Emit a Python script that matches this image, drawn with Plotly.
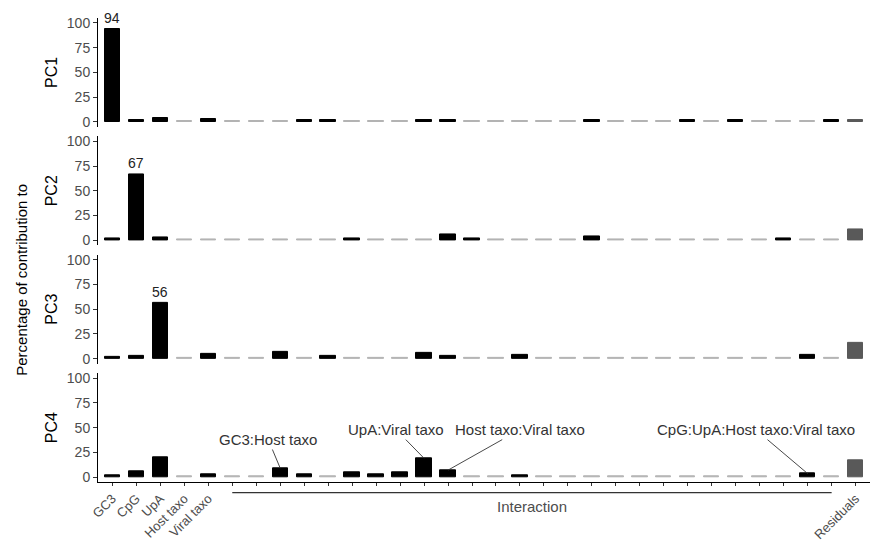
import plotly.graph_objects as go
from plotly.subplots import make_subplots

# ---------------- data ----------------
terms = [
    "GC3", "CpG", "UpA", "Host taxo", "Viral taxo",
    "GC3:CpG", "GC3:UpA", "GC3:Host taxo", "GC3:Viral taxo", "CpG:UpA",
    "CpG:Host taxo", "CpG:Viral taxo", "UpA:Host taxo", "UpA:Viral taxo", "Host taxo:Viral taxo",
    "GC3:CpG:UpA", "GC3:CpG:Host taxo", "GC3:CpG:Viral taxo", "GC3:UpA:Host taxo", "GC3:UpA:Viral taxo",
    "GC3:Host taxo:Viral taxo", "CpG:UpA:Host taxo", "CpG:UpA:Viral taxo", "CpG:Host taxo:Viral taxo",
    "UpA:Host taxo:Viral taxo",
    "GC3:CpG:UpA:Host taxo", "GC3:CpG:UpA:Viral taxo", "GC3:CpG:Host taxo:Viral taxo",
    "GC3:UpA:Host taxo:Viral taxo", "CpG:UpA:Host taxo:Viral taxo",
    "GC3:CpG:UpA:Host taxo:Viral taxo",
    "Residuals",
]
pcs = ["PC1", "PC2", "PC3", "PC4"]

pc1 = [94, 2, 3.5, 0.8, 2.5, 0.8, 0.8, 0.8, 2, 2, 0.8, 0.8, 0.8, 2, 2, 0.8,
       0.8, 0.8, 0.8, 0.8, 2, 0.8, 0.8, 0.8, 2, 0.8, 2, 0.8, 0.8, 0.8, 2, 1.5]
pc2 = [2, 67, 3, 0.8, 0.8, 0.8, 0.8, 0.8, 0.8, 0.8, 2, 0.8, 0.8, 0.8, 6, 2,
       0.8, 0.8, 0.8, 0.8, 3.5, 0.8, 0.8, 0.8, 1.0, 0.8, 0.8, 0.8, 2, 0.8, 0.8, 11]
pc3 = [2, 2.5, 56, 0.8, 5, 0.8, 0.8, 7, 0.8, 3, 1.0, 0.8, 0.8, 5.5, 2.5, 0.8,
       0.8, 3.5, 0.8, 0.8, 0.8, 0.8, 0.8, 0.8, 0.8, 0.8, 0.8, 0.8, 0.8, 3.5, 0.8, 15.5]
pc4 = [2, 6, 20, 0.8, 3, 0.8, 0.8, 9, 3, 0.8, 4.5, 2.5, 4.5, 19, 7, 0.8,
       1.2, 2, 0.8, 0.8, 0.8, 0.8, 0.8, 1.2, 0.8, 0.8, 0.8, 0.8, 0.8, 3.5, 0.8, 16.5]

# 1 = significant (black), 0 = not significant (grey)
sig1 = [1, 1, 1, 0, 1, 0, 0, 0, 1, 1, 0, 0, 0, 1, 1, 0,
        0, 0, 0, 0, 1, 0, 0, 0, 1, 0, 1, 0, 0, 0, 1, 0]
sig2 = [1, 1, 1, 0, 0, 0, 0, 0, 0, 0, 1, 0, 0, 0, 1, 1,
        0, 0, 0, 0, 1, 0, 0, 0, 0, 0, 0, 0, 1, 0, 0, 0]
sig3 = [1, 1, 1, 0, 1, 0, 0, 1, 0, 1, 0, 0, 0, 1, 1, 0,
        0, 1, 0, 0, 0, 0, 0, 0, 0, 0, 0, 0, 0, 1, 0, 0]
sig4 = [1, 1, 1, 0, 1, 0, 0, 1, 1, 0, 1, 1, 1, 1, 1, 0,
        0, 1, 0, 0, 0, 0, 0, 0, 0, 0, 0, 0, 0, 1, 0, 0]

labelled_pc4 = ["GC3:Host taxo", "UpA:Viral taxo", "Host taxo:Viral taxo",
                "CpG:UpA:Host taxo:Viral taxo"]
y_ticks = [0, 25, 50, 75, 100]

# ---------------- figure ----------------
FONT = "Liberation Sans, Arial, Helvetica, sans-serif"
BLACK = "#000000"
GREY = "#b3b3b3"
RESID = "#595959"

values = [pc1, pc2, pc3, pc4]
sigs = [sig1, sig2, sig3, sig4]
xs = list(range(len(terms)))

fig = make_subplots(rows=4, cols=1, vertical_spacing=0.021)

for r, (vals, sg) in enumerate(zip(values, sigs), start=1):
    cols = []
    for t, s in zip(terms, sg):
        if t == "Residuals":
            cols.append(RESID)
        else:
            cols.append(BLACK if s else GREY)
    fig.add_trace(go.Bar(x=xs, y=vals, width=0.64,
                         marker=dict(color=cols, line=dict(color=cols, width=1)),
                         showlegend=False, hoverinfo="skip"), row=r, col=1)
    # value label for the dominant term
    m = max(vals)
    if m > 50:
        i = vals.index(m)
        fig.add_annotation(x=i, y=m, text=str(int(m)), showarrow=False,
                           yanchor="bottom", yshift=1,
                           font=dict(family=FONT, size=14, color="#222"),
                           xref=f"x{r if r > 1 else ''}", yref=f"y{r if r > 1 else ''}")

for r in range(1, 5):
    fig.update_yaxes(row=r, col=1, range=[-5, 105], tickvals=y_ticks, automargin=False,
                     showline=True, linecolor="black", linewidth=1,
                     ticks="outside", ticklen=4, tickcolor="#333", tickwidth=1,
                     tickfont=dict(family=FONT, size=14, color="#4d4d4d"),
                     showgrid=False, zeroline=False,
                     title=dict(text=pcs[r - 1], standoff=5,
                                font=dict(family=FONT, size=16, color="black")))
    if r < 4:
        fig.update_xaxes(row=r, col=1, range=[-0.6, len(terms) - 0.4], visible=False,
                         automargin=False)

ticktext = ["" if ":" in t else t for t in terms]
fig.update_xaxes(row=4, col=1, range=[-0.6, len(terms) - 0.4], tickmode="array",
                 tickvals=xs, ticktext=ticktext, tickangle=-45, automargin=False,
                 showline=True, linecolor="black", linewidth=1,
                 ticks="outside", ticklen=3, tickcolor="#333",
                 tickfont=dict(family=FONT, size=13, color="#4d4d4d"),
                 showgrid=False, zeroline=False)

# labels with leader lines on PC4
label_pos = {"GC3:Host taxo": (-0.5, 38), "UpA:Viral taxo": (-1.17, 48),
             "Host taxo:Viral taxo": (3.0, 48), "CpG:UpA:Host taxo:Viral taxo": (-2.17, 48)}
for name in labelled_pc4:
    i = terms.index(name)
    dx, ty = label_pos[name]
    fig.add_annotation(x=i, y=pc4[i], ax=i + dx, ay=ty, axref="x4", ayref="y4",
                       xref="x4", yref="y4", text=name, showarrow=True,
                       arrowhead=0, arrowwidth=0.9, arrowcolor="#333", standoff=0,
                       font=dict(family=FONT, size=15, color="#333"))

# Interaction bracket
inter_idx = [i for i, t in enumerate(terms) if ":" in t]
i0, i1 = min(inter_idx), max(inter_idx)
fig.add_shape(type="line", xref="x4", yref="paper", x0=i0, x1=i1,
              y0=-0.023, y1=-0.023, line=dict(color="#333", width=1.2))
fig.add_annotation(x=(i0 + i1) / 2, y=-0.052, xref="x4", yref="paper",
                   text="Interaction", showarrow=False, yanchor="middle",
                   font=dict(family=FONT, size=15, color="#4d4d4d"))

# global y title
fig.add_annotation(x=-0.1126, y=0.435, xref="paper", yref="paper",
                   text="Percentage of contribution to", textangle=-90,
                   showarrow=False, font=dict(family=FONT, size=15, color="black"))

fig.update_layout(width=870, height=540, plot_bgcolor="white", paper_bgcolor="white",
                  margin=dict(l=98, r=0, t=18, b=58, autoexpand=False), bargap=0,
                  font=dict(family=FONT))

fig.write_html("out.html", config={"displayModeBar": False},
               post_script="document.body.style.margin='0px';document.body.style.overflow='hidden';")
